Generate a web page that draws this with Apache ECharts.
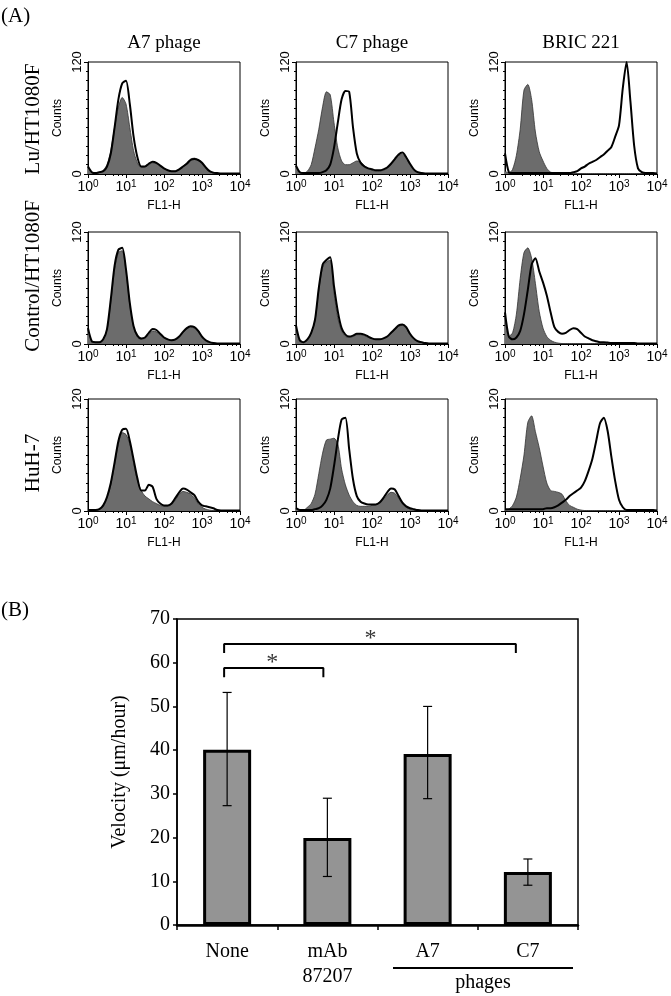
<!DOCTYPE html>
<html><head><meta charset="utf-8">
<script src="https://cdn.jsdelivr.net/npm/echarts@6/dist/echarts.min.js"></script>
<style>html,body{margin:0;padding:0;background:#fff}#c{width:671px;height:996px}</style>
</head><body><div id="c"></div>
<script>
// ---------- Panel A: flow cytometry histograms ----------
const ROW_LABELS = ['Lu/HT1080F', 'Control/HT1080F', 'HuH-7'];
const COL_LABELS = ['A7 phage', 'C7 phage', 'BRIC 221'];
// FL1-H channel grid as log10 exponents
const CHANNEL_EXPONENTS = [0,0.1,0.2,0.3,0.4,0.5,0.6,0.7,0.8,0.9,1,1.1,1.2,1.3,1.4,1.5,1.6,1.7,1.8,1.9,2,2.1,2.2,2.3,2.4,2.5,2.6,2.7,2.8,2.9,3,3.1,3.2,3.3,3.4,3.5,3.6,3.7,3.8,3.9,4];

// gray filled = negative control, black outline = stained
const LU_A7_NEG = [8,2,1,2,4,10,25,50,72,82,75,50,25,12,7,8,10,12,11,9,6,4,3,3,5,8,12,16,17,15,11,6,3,1,1,0.5,0.5,0.5,0.5,0.5,0.5];
const LU_A7_STAIN = [8,2,1,2,3,8,22,50,80,97,100,75,40,18,8,8,11,13,12,9,6,4,3,3,5,8,11,15,16,15,12,7,3,1.5,1,0.5,0.5,0.5,0.5,0.5,0.5];
const LU_C7_NEG = [8,1,1,3,10,28,48,72,88,85,55,28,14,10,10,12,14,13,9,6,4,3,3,4,6,10,15,20,21,17,10,5,2,1,0.5,0.5,0.5,0.5,0.5,0.5,0.5];
const LU_C7_STAIN = [9,2,1,1,1,1,1,2,4,10,28,55,80,89,88,50,22,12,8,6,5,4,4,5,7,11,16,21,23,18,11,5,2,1,0.5,0.5,0.5,0.5,0.5,0.5,0.5];
const LU_BRIC_NEG = [3,1,5,20,48,90,96,80,45,24,14,6,2,1,0.5,0.5,0.5,0.5,0.5,0.5,0.5,0.5,0.5,0.5,0.5,0.5,0.5,0.5,0.5,0.5,0.5,0.5,0.5,0.5,0.5,0.5,0.5,0.5,0.5,0.5,0.5];
const LU_BRIC_STAIN = [22,2,1,1,1,1,1,1,1,1,1,1,1,1,1,1,1,1,2,3,6,8,11,13,15,18,21,25,29,40,52,92,120,78,30,6,2,1,1,1,0.5];

const CTRL_A7_NEG = [15,3,2,2,5,15,45,80,98,100,78,42,18,8,5,6,10,14,13,10,7,5,4,5,8,12,16,18,17,13,7,3,1.5,1,0.5,0.5,0.5,0.5,0.5,0.5,0.5];
const CTRL_A7_STAIN = [17,3,2,2,5,16,48,84,101,103,80,44,19,9,6,7,12,16,15,11,7,5,4,5,8,13,17,19,18,14,8,4,2,1,0.5,0.5,0.5,0.5,0.5,0.5,0.5];
const CTRL_C7_NEG = [15,3,2,5,12,25,58,82,88,90,55,28,14,8,7,8,10,10,9,7,6,5,5,6,8,11,15,19,20,17,10,5,3,2,1,0.5,0.5,0.5,0.5,0.5,0.5];
const CTRL_C7_STAIN = [20,4,2,5,12,26,60,85,90,93,62,35,17,10,8,9,11,11,10,8,6,5,5,6,8,12,16,20,21,18,11,6,3,2,1,0.5,0.5,0.5,0.5,0.5,0.5];
const CTRL_BRIC_NEG = [28,8,12,32,70,98,103,92,65,35,17,8,4,2,1,0.5,0.5,0.5,0.5,0.5,0.5,0.5,0.5,0.5,0.5,0.5,0.5,0.5,0.5,0.5,0.5,0.5,0.5,0.5,0.5,0.5,0.5,0.5,0.5,0.5,0.5];
const CTRL_BRIC_STAIN = [34,8,5,7,14,32,58,85,92,78,66,52,34,18,13,11,12,15,17,16,12,8,6,4,3,2,2,1.5,1,1,1,1,1,1,1,0.5,0.5,0.5,0.5,0.5,0.5];

const HUH_A7_NEG = [1,1,1,2,5,14,28,50,72,84,82,72,52,33,22,16,13,10,8,6,5,5,7,12,18,21,20,18,14,8,4,2,1,0.5,0.5,0.5,0.5,0.5,0.5,0.5,0.5];
const HUH_A7_STAIN = [1,1,1,2,6,15,30,52,75,87,88,75,55,35,22,22,28,26,13,8,6,6,8,14,20,24,23,20,17,10,6,5,4,3,1,0.5,0.5,0.5,0.5,0.5,0.5];
const HUH_C7_NEG = [3,1,1,4,8,18,40,62,76,77,78,72,45,28,17,10,6,5,5,5,6,7,9,13,17,20,19,14,8,4,2,1,0.5,0.5,0.5,0.5,0.5,0.5,0.5,0.5,0.5];
const HUH_C7_STAIN = [3,1,1,1,1,2,3,6,12,24,48,76,98,100,66,34,16,10,8,7,7,7,9,14,20,24,23,16,9,5,3,2,1,0.5,0.5,0.5,0.5,0.5,0.5,0.5,0.5];
const HUH_BRIC_NEG = [1,2,6,15,35,60,95,102,85,68,48,30,22,21,20,18,11,6,4,2,1,0.5,0.5,0.5,0.5,0.5,0.5,0.5,0.5,0.5,0.5,0.5,0.5,0.5,0.5,0.5,0.5,0.5,0.5,0.5,0.5];
const HUH_BRIC_STAIN = [2,2,2,2,2,2,2,2,2,2,2,3,3,4,6,9,12,16,19,22,25,32,43,56,75,94,100,86,58,32,12,4,1,1,1,1,1,1,1,1,0.5];

// ---------- Panel B: velocity bar chart ----------
const CATEGORIES = ['None', 'mAb\n87207', 'A7', 'C7'];
const VELOCITY_MEAN = [40.1, 19.9, 39.1, 12.1];
const VELOCITY_LOW = [27.3, 11.1, 28.9, 9.1];
const VELOCITY_HIGH = [53.2, 29.0, 50.0, 15.1];
const BRACKET_1 = [[0.47, 56.7], [0.47, 58.8], [1.46, 58.8], [1.46, 56.7]];
const BRACKET_2 = [[0.47, 62.2], [0.47, 64.3], [3.38, 64.3], [3.38, 62.2]];
const ASTERISKS = [[0.95, 60.0], [1.93, 65.6]];

// ---------- layout ----------
const HIST_LEFT = [88, 296, 505];
const HIST_TOP = [62, 232, 399];
const HIST_W = 152, HIST_H = 112;
const SANS = 'Liberation Sans';
const SERIF = 'Liberation Serif';

const PANELS = [
  [LU_A7_NEG, LU_A7_STAIN], [LU_C7_NEG, LU_C7_STAIN], [LU_BRIC_NEG, LU_BRIC_STAIN],
  [CTRL_A7_NEG, CTRL_A7_STAIN], [CTRL_C7_NEG, CTRL_C7_STAIN], [CTRL_BRIC_NEG, CTRL_BRIC_STAIN],
  [HUH_A7_NEG, HUH_A7_STAIN], [HUH_C7_NEG, HUH_C7_STAIN], [HUH_BRIC_NEG, HUH_BRIC_STAIN]
];
const FL1_H = CHANNEL_EXPONENTS.map(e => Math.pow(10, e));
const pairs = arr => arr.map((v, i) => [FL1_H[i], v]);

const grid = [], xAxis = [], yAxis = [], series = [];
PANELS.forEach((p, i) => {
  const r = Math.floor(i / 3), c = i % 3;
  grid.push({left: HIST_LEFT[c], top: HIST_TOP[r], width: HIST_W, height: HIST_H,
    show: true, borderColor: '#000', borderWidth: 1});
  xAxis.push({type: 'log', logBase: 10, gridIndex: i, min: 1, max: 10000,
    name: 'FL1-H', nameLocation: 'middle', nameGap: 26,
    nameTextStyle: {fontSize: 12, color: '#000', fontFamily: SANS},
    axisLine: {lineStyle: {color: '#000', width: 1}},
    axisTick: {length: 4, lineStyle: {color: '#000', width: 1}},
    minorTick: {show: true, splitNumber: 5, length: 2, lineStyle: {color: '#000', width: 1}},
    splitLine: {show: false}, minorSplitLine: {show: false},
    axisLabel: {margin: 5, color: '#000',
      formatter: v => '{b|10}{s|' + Math.round(Math.log10(v)) + '}',
      rich: {b: {fontSize: 14, fontFamily: SANS, color: '#000'},
             s: {fontSize: 10, fontFamily: SANS, color: '#000', verticalAlign: 'top', padding: [0, 0, 7, 0]}}}
  });
  yAxis.push({type: 'value', gridIndex: i, min: 0, max: 120, interval: 120,
    name: 'Counts', nameLocation: 'middle', nameGap: 24, nameRotate: 90,
    nameTextStyle: {fontSize: 12, color: '#000', fontFamily: SANS},
    axisLine: {show: true, lineStyle: {color: '#000', width: 1}},
    axisTick: {show: true, length: 4, lineStyle: {color: '#000'}},
    minorTick: {show: true, splitNumber: 12, length: 2, lineStyle: {color: '#000'}},
    splitLine: {show: false},
    axisLabel: {rotate: 90, fontSize: 13, margin: 4, color: '#000', fontFamily: SANS}
  });
  series.push({type: 'line', xAxisIndex: i, yAxisIndex: i, data: pairs(p[0]),
    symbol: 'none', silent: true, z: 2, smooth: 0.25,
    lineStyle: {color: '#333', width: 0.8}, areaStyle: {color: '#6c6c6c', opacity: 1}});
  series.push({type: 'line', xAxisIndex: i, yAxisIndex: i, data: pairs(p[1]),
    symbol: 'none', silent: true, z: 3, smooth: 0.25,
    lineStyle: {color: '#000', width: 2}});
});

// Bar chart grid (index 9)
grid.push({left: 177, top: 619, width: 401, height: 306, show: true, borderColor: '#000', borderWidth: 1.5});
xAxis.push({type: 'category', gridIndex: 9, data: CATEGORIES,
  axisLine: {lineStyle: {color: '#000', width: 2.5}},
  axisTick: {show: true, length: 5, lineStyle: {color: '#000', width: 1.5}},
  axisLabel: {fontFamily: SERIF, fontSize: 20, color: '#000', lineHeight: 25, margin: 14}
});
xAxis.push({type: 'value', gridIndex: 9, min: 0, max: 4, show: false});
yAxis.push({type: 'value', gridIndex: 9, min: 0, max: 70, interval: 10,
  name: 'Velocity (μm/hour)', nameLocation: 'middle', nameGap: 47, nameRotate: 90,
  nameTextStyle: {fontFamily: SERIF, fontSize: 20, color: '#000'},
  axisLine: {show: true, lineStyle: {color: '#000', width: 1.5}},
  axisTick: {show: true, length: 4, lineStyle: {color: '#000', width: 1.5}},
  splitLine: {show: false},
  axisLabel: {fontFamily: SERIF, fontSize: 20, color: '#000', margin: 7}
});
series.push({type: 'bar', xAxisIndex: 9, yAxisIndex: 9, data: VELOCITY_MEAN, barWidth: 48,
  itemStyle: {color: '#949494', borderColor: '#000', borderWidth: 3}, silent: true});
series.push({type: 'custom', xAxisIndex: 9, yAxisIndex: 9, z: 10, silent: true,
  data: VELOCITY_MEAN.map((m, i) => [i, VELOCITY_LOW[i], VELOCITY_HIGH[i]]),
  renderItem: (params, api) => {
    const x = api.value(0);
    const lo = api.coord([x, api.value(1)]);
    const hi = api.coord([x, api.value(2)]);
    const w = 4.5, st = {stroke: '#000', lineWidth: 1.2};
    return {type: 'group', children: [
      {type: 'line', shape: {x1: lo[0], y1: lo[1], x2: hi[0], y2: hi[1]}, style: st},
      {type: 'line', shape: {x1: hi[0] - w, y1: hi[1], x2: hi[0] + w, y2: hi[1]}, style: st},
      {type: 'line', shape: {x1: lo[0] - w, y1: lo[1], x2: lo[0] + w, y2: lo[1]}, style: st}
    ]};
  }
});
[BRACKET_1, BRACKET_2].forEach(b => series.push({type: 'line', xAxisIndex: 10, yAxisIndex: 9, data: b,
  symbol: 'none', silent: true, lineStyle: {color: '#000', width: 2}}));
series.push({type: 'scatter', xAxisIndex: 10, yAxisIndex: 9, data: ASTERISKS, symbolSize: 0, silent: true,
  label: {show: true, position: 'inside', formatter: '*', fontFamily: SERIF, fontSize: 24, color: '#000'}});

const graphic = [
  {type: 'text', left: 1, top: 6, style: {text: '(A)', font: '21px "Liberation Serif"', fill: '#000'}},
  {type: 'text', left: 1, top: 600, style: {text: '(B)', font: '21px "Liberation Serif"', fill: '#000'}},
  {type: 'line', shape: {x1: 393, y1: 968, x2: 573, y2: 968}, style: {stroke: '#000', lineWidth: 2}},
  {type: 'text', x: 483, y: 983, style: {text: 'phages', font: '20px "Liberation Serif"', fill: '#000', align: 'center', verticalAlign: 'middle'}}
];
const COL_X = [164, 372, 581];
COL_LABELS.forEach((t, i) => graphic.push({type: 'text', x: COL_X[i], y: 43,
  style: {text: t, font: '19px "Liberation Serif"', fill: '#000', align: 'center', verticalAlign: 'middle'}}));
const ROW_Y = [119, 276, 463];
ROW_LABELS.forEach((t, i) => graphic.push({type: 'text', x: 33, y: ROW_Y[i], rotation: Math.PI / 2,
  style: {text: t, font: '21px "Liberation Serif"', fill: '#000', align: 'center', verticalAlign: 'middle'}}));

const chart = echarts.init(document.getElementById('c'), null, {renderer: 'canvas'});
chart.setOption({animation: false, backgroundColor: '#fff',
  textStyle: {fontFamily: SANS}, grid, xAxis, yAxis, series, graphic});
</script></body></html>
